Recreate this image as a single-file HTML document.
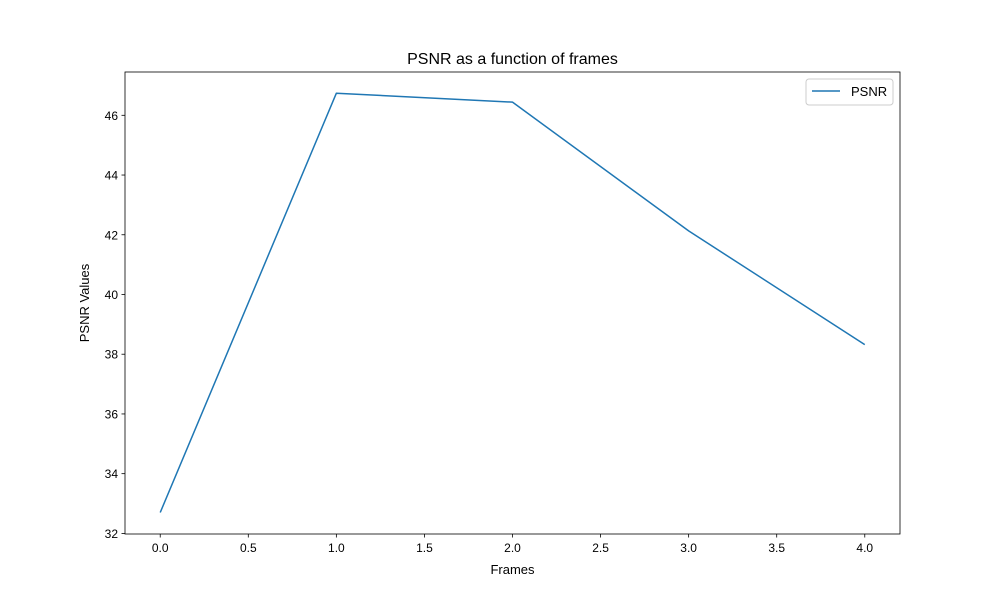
<!DOCTYPE html>
<html><head><meta charset="utf-8"><style>
body{margin:0;background:#fff;}
svg{display:block;font-family:"Liberation Sans","DejaVu Sans",sans-serif;}
</style></head><body>
<svg id="chart" width="1000" height="600">
<rect width="1000" height="600" fill="#fff"/>
<text x="512.5" y="64" text-anchor="middle" font-size="16">PSNR as a function of frames</text>
<g id="axes"></g>
</svg>
<script>
const frames=[0,1,2,3,4];
const psnrValues=[32.70,46.74,46.44,42.13,38.32];
const xTicks=[0,0.5,1,1.5,2,2.5,3,3.5,4];
const yTicks=[32,34,36,38,40,42,44,46];
const L=125,R=900,T=72,B=534;
const xmin=-0.2,xmax=4.2,ymin=31.98,ymax=47.45;
const sx=v=>L+(v-xmin)/(xmax-xmin)*(R-L);
const sy=v=>B-(v-ymin)/(ymax-ymin)*(B-T);
const NS="http://www.w3.org/2000/svg";
const g=document.getElementById('axes');
function mk(tag,attrs,parent){const e=document.createElementNS(NS,tag);for(const k in attrs)e.setAttribute(k,attrs[k]);(parent||g).appendChild(e);return e;}
xTicks.forEach(v=>{
 const t=mk('line',{x1:sx(v),x2:sx(v),y1:B,y2:B+3.5,stroke:'#000','stroke-width':0.8});
 
 
 const l=mk('text',{x:sx(v),y:B+18,'text-anchor':'middle','font-size':12});
 l.textContent=v.toFixed(1);
 
 
});
yTicks.forEach(v=>{
 const t=mk('line',{x1:L-3.5,x2:L,y1:sy(v),y2:sy(v),stroke:'#000','stroke-width':0.8});
 
 
 const l=mk('text',{x:L-7,y:sy(v)+4.5,'text-anchor':'end','font-size':12});
 l.textContent=v;
 
 
});
const line=mk('polyline',{points:frames.map((f,i)=>sx(f)+','+sy(psnrValues[i])).join(' '),fill:'none',stroke:'#1f77b4','stroke-width':1.5,'stroke-linejoin':'round'});


const frame=mk('rect',{x:L,y:T,width:R-L,height:B-T,fill:'none',stroke:'#000','stroke-width':0.8});


const xl=mk('text',{x:(L+R)/2,y:574,'text-anchor':'middle','font-size':13});
xl.textContent='Frames';


const yl=mk('text',{x:89,y:(T+B)/2,'text-anchor':'middle','font-size':13,transform:'rotate(-90 89 '+((T+B)/2)+')'});
yl.textContent='PSNR Values';


const lg=mk('g',{});


mk('rect',{x:806,y:79,width:87,height:26,rx:3,fill:'#fff',stroke:'#ccc','stroke-width':1},lg);
mk('line',{x1:812,x2:840,y1:91,y2:91,stroke:'#1f77b4','stroke-width':1.5},lg);
const lt=mk('text',{x:851,y:96,'font-size':13},lg);
lt.textContent='PSNR';


</script>
</body></html>
